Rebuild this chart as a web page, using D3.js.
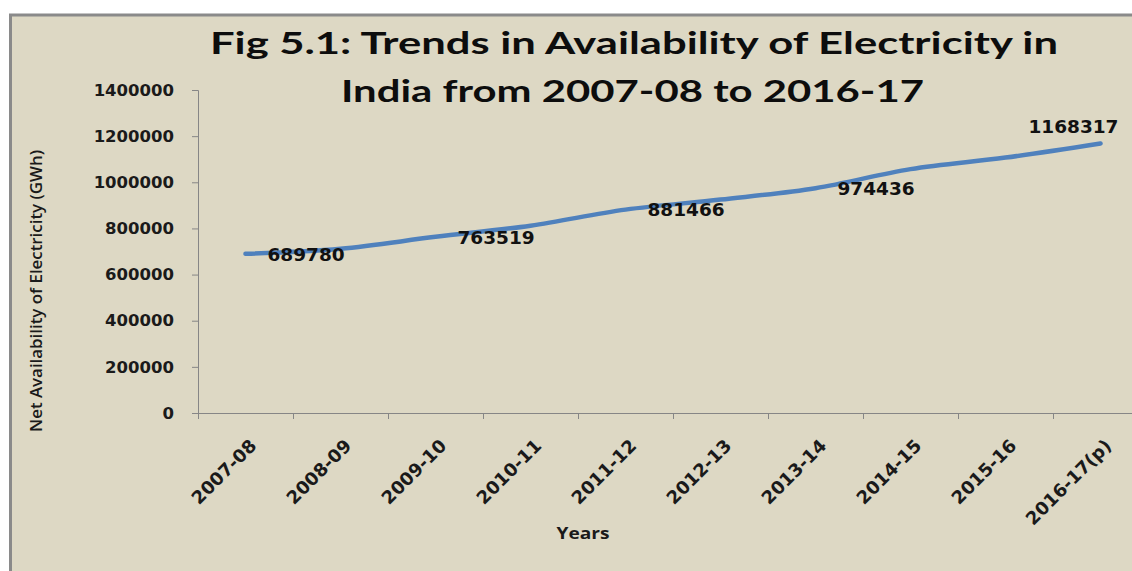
<!DOCTYPE html>
<html>
<head>
<meta charset="utf-8">
<script src="https://cdn.jsdelivr.net/npm/d3@7"></script>
<style>
  html, body { margin: 0; padding: 0; background: #ffffff; }
  svg { display: block; }
</style>
</head>
<body>
<svg id="chart" width="1132" height="571"></svg>
<script>
// ---- Data ----
const categories = ["2007-08","2008-09","2009-10","2010-11","2011-12","2012-13","2013-14","2014-15","2015-16","2016-17(p)"];
const availability = [689780, 712000, 763519, 812000, 881466, 925000, 974436, 1057000, 1107000, 1168317];
const labelledIndices = [0, 2, 4, 6, 9];
const yTicks = [0, 200000, 400000, 600000, 800000, 1000000, 1200000, 1400000];
const titleLines = ["Fig 5.1: Trends in Availability of Electricity in", "India from 2007-08 to 2016-17"];
const yTitle = "Net Availability of Electricity (GWh)";
const xTitle = "Years";

// ---- Layout ----
const svg = d3.select("#chart");
const plot = { left: 198, right: 1148, top: 90, bottom: 413 };

// Panel background
svg.append("rect")
  .attr("x", 10.5).attr("y", 15)
  .attr("width", 1200).attr("height", 600)
  .attr("fill", "#ddd8c4")
  .attr("stroke", "#8a8a8a").attr("stroke-width", 3);

const x = d3.scaleBand().domain(categories).range([plot.left, plot.right]).padding(0);
const y = d3.scaleLinear().domain([0, 1400000]).range([plot.bottom, plot.top]);
const cx = c => x(c) + x.bandwidth() / 2;

// Title
const titleG = svg.append("g");
titleG.append("text")
  .attr("x", 634).attr("y", 54)
  .attr("text-anchor", "middle")
  .attr("textLength", 848).attr("lengthAdjust", "spacingAndGlyphs")
  .style("font-family", "Lato, 'Open Sans', sans-serif")
  .style("font-weight", 700).style("font-size", "30px").attr("fill", "#0d0d0d")
  .text(titleLines[0]);
titleG.append("text")
  .attr("x", 632.5).attr("y", 102)
  .attr("text-anchor", "middle")
  .attr("textLength", 583).attr("lengthAdjust", "spacingAndGlyphs")
  .style("font-family", "Lato, 'Open Sans', sans-serif")
  .style("font-weight", 700).style("font-size", "30px").attr("fill", "#0d0d0d")
  .text(titleLines[1]);

// Y axis
const yAxis = d3.axisLeft(y).tickValues(yTicks).tickSize(6).tickPadding(18).tickFormat(d3.format("d"));
const yG = svg.append("g").attr("transform", `translate(${plot.left},0)`).call(yAxis);
yG.select(".domain").attr("stroke", "#868686");
yG.selectAll(".tick line").attr("stroke", "#868686");
yG.selectAll(".tick text")
  .style("font-family", "'DejaVu Sans', Verdana, sans-serif")
  .style("font-weight", 700).style("font-size", "16.5px").attr("fill", "#1a1a1a");

// X axis line + boundary ticks
const boundaries = categories.map(c => x(c)).concat([x.range()[1]]);
svg.append("line")
  .attr("x1", plot.left).attr("x2", plot.right)
  .attr("y1", plot.bottom + 0.5).attr("y2", plot.bottom + 0.5)
  .attr("stroke", "#868686");
svg.append("g").selectAll("line").data(boundaries).join("line")
  .attr("x1", d => d + 0.5).attr("x2", d => d + 0.5)
  .attr("y1", plot.bottom).attr("y2", plot.bottom + 6)
  .attr("stroke", "#868686");

// X tick labels
const xAxis = d3.axisBottom(x).tickSize(0).tickPadding(0);
const xG = svg.append("g").attr("transform", `translate(0,${plot.bottom})`).call(xAxis);
xG.select(".domain").remove();
xG.selectAll(".tick text")
  .attr("y", 0).attr("dy", 0)
  .attr("text-anchor", "end")
  .attr("transform", "translate(12,34) rotate(-45)")
  .style("font-family", "'DejaVu Sans', Verdana, sans-serif")
  .style("font-weight", 700).style("font-size", "18px").attr("fill", "#1a1a1a");

// Axis titles
svg.append("text")
  .attr("transform", `translate(42,${(150 + 432) / 2}) rotate(-90)`)
  .attr("text-anchor", "middle")
  .attr("textLength", 282).attr("lengthAdjust", "spacingAndGlyphs")
  .style("font-family", "'Open Sans', 'Liberation Sans', sans-serif")
  .style("font-weight", 600)
  .style("font-size", "17px").attr("fill", "#1a1a1a")
  .text(yTitle);
svg.append("text")
  .attr("x", 583).attr("y", 539)
  .attr("text-anchor", "middle")
  .attr("textLength", 53).attr("lengthAdjust", "spacingAndGlyphs")
  .style("font-family", "'Open Sans', 'Liberation Sans', sans-serif")
  .style("font-weight", 700).style("font-size", "15.5px").attr("fill", "#1a1a1a")
  .text(xTitle);

// Line
const line = d3.line()
  .x((d, i) => cx(categories[i]))
  .y(d => y(d))
  .curve(d3.curveMonotoneX);
svg.append("path")
  .datum(availability)
  .attr("d", line)
  .attr("fill", "none")
  .attr("stroke", "#4f81bd")
  .attr("stroke-width", 4.5)
  .attr("stroke-linecap", "round");

// Data labels
const last = categories.length - 1;
svg.append("g").selectAll("text").data(labelledIndices).join("text")
  .attr("x", i => i === last ? cx(categories[i]) + 18 : cx(categories[i]) + 22)
  .attr("y", i => i === last ? y(availability[i]) - 10 : y(availability[i]))
  .attr("dy", i => i === last ? 0 : "0.36em")
  .attr("text-anchor", i => i === last ? "end" : "start")
  .style("font-family", "'DejaVu Sans', Verdana, sans-serif")
  .style("font-weight", 700).style("font-size", "18.5px").attr("fill", "#111111")
  .text(i => availability[i]);
</script>
</body>
</html>
